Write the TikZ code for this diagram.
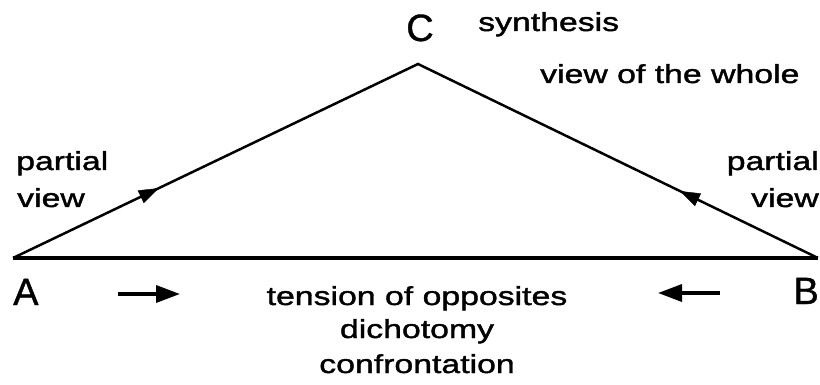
\documentclass[tikz,border=0pt]{standalone}
\usepackage{fontspec}
\setmainfont{Liberation Sans}
\newfontfamily\widefont[FakeStretch=1.3,FakeBold=1.5]{Liberation Sans}
\newfontfamily\capfont[FakeBold=1]{Liberation Sans}
\usetikzlibrary{arrows.meta,decorations.markings}
\begin{document}
\begin{tikzpicture}[x=1pt,y=-1pt,
  lbl/.style={font=\widefont\fontsize{26}{30}\selectfont, inner sep=0pt},
  vtx/.style={font=\capfont\fontsize{38}{40}\selectfont, inner sep=0pt},
  edgeline/.style={line width=2.5pt, line join=miter},
  baseline/.style={line width=3.4pt},
  harrow/.style={line width=3.5pt, -{Triangle[length=24pt,width=17pt]}},
  midarrow/.style={postaction={decorate}, decoration={markings,
     mark=at position #1 with {\arrow{Triangle[length=20pt,width=14pt]}}}}]
\useasboundingbox (0,0) rectangle (820,385);
\coordinate (A) at (13,258);
\coordinate (B) at (818,258);
\coordinate (C) at (418,64);
% triangle
\draw[edgeline] (A) -- (C) -- (B);
\draw[baseline] (A) -- (B);
\path[midarrow=0.36] (A) -- (C);
\path[midarrow=0.345] (B) -- (C);
% horizontal arrows
\coordinate (la1) at (118,294);
\coordinate (la2) at (180,294);
\coordinate (ra1) at (720,293);
\coordinate (ra2) at (658,293);
\draw[harrow] (la1) -- (la2);
\draw[harrow] (ra1) -- (ra2);
% vertex labels
\node[vtx, anchor=base] (Cl) at (420,41) {C};
\node[vtx, anchor=base west] (Al) at (13,305) {A};
\node[vtx, anchor=base east] (Bl) at (819,304) {B};
% texts
\node[lbl, anchor=base west] (syn) at (478,31) {synthesis};
\node[lbl, anchor=base west] (whole) at (540,83) {view of the whole};
\node[lbl, anchor=base west] (pl) at (16,170) {partial};
\node[lbl, anchor=base west] (vl) at (17,207) {view};
\node[lbl, anchor=base east] (pr) at (819,170) {partial};
\node[lbl, anchor=base east] (vr) at (819,207) {view};
\node[lbl, anchor=base] (t1) at (417,305) {tension of opposites};
\node[lbl, anchor=base] (t2) at (417,338) {dichotomy};
\node[lbl, anchor=base] (t3) at (417,373) {confrontation};
\end{tikzpicture}
\end{document}
